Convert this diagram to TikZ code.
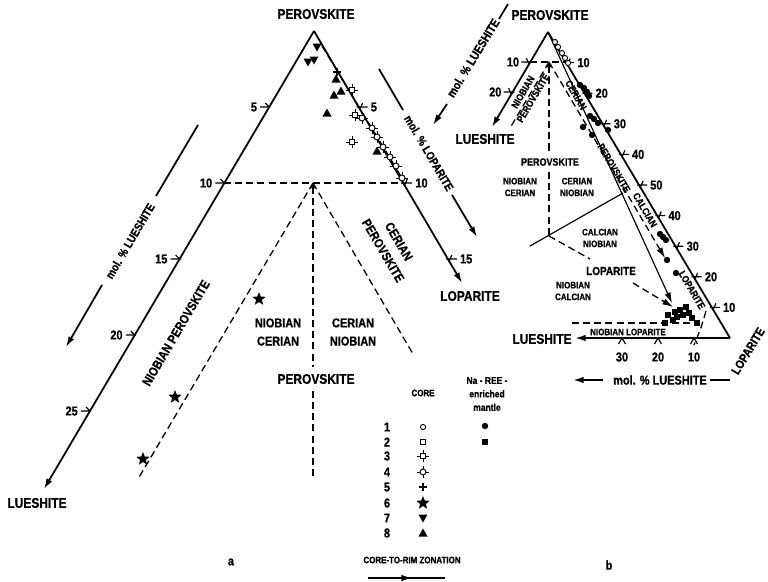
\documentclass[tikz,border=0pt]{standalone}
\usepackage{fontspec}
\setmainfont{Liberation Sans}[FakeStretch=0.85, BoldFeatures={FakeBold=0.8}]
\usetikzlibrary{arrows.meta,shapes.geometric}
\tikzset{
  >={Latex[length=9pt,width=5.5pt]},
  side/.style={line width=1.5pt},
  fine/.style={line width=1pt},
  guide/.style={line width=1.1pt, dash pattern=on 6pt off 3.5pt},
  bigtxt/.style={font=\bfseries\fontsize{12}{12}\selectfont, inner sep=0pt},
  midtxt/.style={font=\bfseries\fontsize{11}{15.5}\selectfont, inner sep=0pt, align=center},
  moltxt/.style={font=\bfseries\fontsize{10}{10}\selectfont, inner sep=0pt},
  numtxt/.style={font=\bfseries\fontsize{11}{11}\selectfont, inner sep=0pt},
  smalltxt/.style={font=\bfseries\fontsize{8}{10}\selectfont, inner sep=0pt, align=center},
  striptxt/.style={font=\bfseries\fontsize{8.5}{8.5}\selectfont, inner sep=0pt, align=center},
  opencirc/.pic={\draw[fill=white, line width=.8pt] (0,0) circle (2.6);},
  opensq/.pic={\draw[fill=white, line width=.8pt] (-2.6,-2.6) rectangle (2.6,2.6);},
  tsq/.pic={\draw[line width=.8pt] (-6,0) -- (6,0) (0,-6) -- (0,6);
    \draw[fill=white, line width=.8pt] (-2.8,-2.8) rectangle (2.8,2.8);},
  tcirc/.pic={\draw[line width=.8pt] (-6,0) -- (6,0) (0,-6) -- (0,6);
    \draw[fill=white, line width=.8pt] (0,0) circle (3);},
  plusmk/.pic={\draw[line width=1pt] (-4,0) -- (4,0) (0,-4) -- (0,4);},
  starmk/.pic={\node[star, star points=5, star point ratio=2.3, fill, inner sep=0pt, minimum size=0.42cm] {};},
  downtri/.pic={\fill (-4.5,-3.5) -- (4.5,-3.5) -- (0,4.5) -- cycle;},
  uptri/.pic={\fill (-4.5,3.5) -- (4.5,3.5) -- (0,-4.5) -- cycle;},
  dotmk/.pic={\fill (0,0) circle (3.2);},
  sqmk/.pic={\fill (-3.3,-3.3) rectangle (3.3,3.3);}
}
\begin{document}
\begin{tikzpicture}[x=0.03cm, y=-0.03cm]
  \useasboundingbox (0,0) rectangle (768,581);
  \begin{scope}
    \coordinate (Pa) at (314,31);
    \coordinate (La) at (44,489);
    \coordinate (Oa) at (462,283);
    \coordinate (Va) at (313,183);
    \draw[side, ->] (Pa) -- (La);
    \draw[side, ->] (Pa) -- (Oa);
    \node[bigtxt] (pera) at (316,14) {PEROVSKITE};
    \node[bigtxt] (luea) at (37,503) {LUESHITE};
    \node[bigtxt] (lopa) at (470,296) {LOPARITE};
    \foreach \v in {5,10,...,25} {
      \pgfmathsetmacro\ty{31 + 15.2*\v}
      \pgfmathsetmacro\tx{314 - 0.5895*(\ty - 31)}
      \draw[fine] (\tx-9,\ty) -- (\tx+1,\ty) (\tx-4,\ty-4) -- (\tx,\ty);
      \node[numtxt, anchor=east] (tla\v) at (\tx-12,\ty) {\v};
    }
    \foreach \v in {5,10,15} {
      \pgfmathsetmacro\ty{31 + 15.2*\v}
      \pgfmathsetmacro\tx{314 + 0.587*(\ty - 31)}
      \draw[fine] (\tx-2,\ty) -- (\tx+9,\ty) (\tx+4,\ty-4) -- (\tx+1,\ty+3);
      \node[numtxt, anchor=west] (tra\v) at (\tx+12,\ty) {\v};
    }
    \draw[guide] (224,183) -- (403,183);
    \draw[guide] (Va) -- (138,479);
    \draw[guide] (Va) -- (413,354);
    \draw[guide, {Stealth[length=5pt,width=4pt]}-] (Va) -- (313,367);
    \draw[guide] (313,391) -- (313,476);
    \node[midtxt] (nca) at (278,332) {NIOBIAN\\CERIAN};
    \node[midtxt] (cna) at (353,332) {CERIAN\\NIOBIAN};
    \node[bigtxt] (pva) at (316,379) {PEROVSKITE};
    \node[midtxt, rotate=-59.6] (cpa) at (391,246) {CERIAN\\PEROVSKITE};
    \node[midtxt, rotate=59.5] (npa) at (176,333) {NIOBIAN PEROVSKITE};
    \draw[side] (198,125) -- (156,196);
    \node[moltxt, rotate=59.5] (mla) at (130,241) {mol. \% LUESHITE};
    \draw[side, ->] (102,285) -- (66,347);
    \draw[side] (379,69) -- (403,110);
    \node[moltxt, rotate=-59.6] (moa) at (429,153) {mol. \% LOPARITE};
    \draw[side, ->] (452,195) -- (477,237);
    \draw[guide] (322,46) -- (402,178);
    \foreach \p in {(317,47),(308,62),(314,60)} \pic at \p {downtri};
    \foreach \p in {(336,79),(334,95),(341,91),(327,113),(377,151)} \pic at \p {uptri};
    \pic at (337,72) {plusmk};
    \foreach \p in {(352,90),(352,142),(355,115)} \pic at \p {tsq};
    \foreach \p in {(362,118),(372,128),(377,137),(383,147),(390,157),(396,166),(402,178)} \pic at \p {tcirc};
    \foreach \p in {(259,299),(175,397),(143,459)} \pic at \p {starmk};
    \node[numtxt] (lbla) at (231,562) {a};
  \end{scope}
  \begin{scope}
    \node[smalltxt] (core) at (423,393) {CORE};
    \foreach \n/\yy/\mk in {1/427/opencirc,2/442/opensq,3/456/tsq,4/472/tcirc,5/487/plusmk,6/503/starmk,7/518/downtri,8/533/uptri} {
      \node[numtxt] (num\n) at (387,\yy) {\n};
      \pic at (423,\yy) {\mk};
    }
    \node[smalltxt, font=\bfseries\fontsize{8.5}{11.5}\selectfont] (nree) at (487,394) {Na - REE -\\enriched\\mantle};
    \pic at (485,426) {dotmk};
    \pic at (485,442) {sqmk};
    \node[smalltxt] (zon) at (412,560) {CORE-TO-RIM ZONATION};
    \draw[fine, ->] (368,578) -- (412,578);
    \draw[fine] (405,578) -- (445,578);
  \end{scope}
  \begin{scope}
    \coordinate (Pb) at (548,32);
    \coordinate (Lb) at (492,127);
    \coordinate (Ob) at (730,338);
    \coordinate (Vb) at (549,62);
    \draw[side, ->] (Pb) -- (Lb);
    \draw[side] (Pb) -- (Ob);
    \draw[side, ->] (Ob) -- (575,338);
    \draw[fine, ->] (Pb) -- (672,303);
    \node[bigtxt] (perb) at (550,15) {PEROVSKITE};
    \node[bigtxt] (lueb) at (485,139) {LUESHITE};
    \node[bigtxt] (luec) at (542,339) {LUESHITE};
    \node[bigtxt, font=\bfseries\fontsize{10.5}{10.5}\selectfont, rotate=58.5] (lopb) at (748,351) {LOPARITE};
    \foreach \k in {1,...,9} {
      \pgfmathsetmacro\ty{338 - 30.6*\k}
      \pgfmathsetmacro\tx{548 + 0.595*(\ty - 32)}
      \pgfmathtruncatemacro\lbl{10*min(\k,10-\k)}
      \draw[fine] (\tx-2,\ty) -- (\tx+8,\ty) (\tx+4,\ty-4) -- (\tx+1,\ty+3);
      \node[numtxt, anchor=west] (trb\k) at (\tx+11,\ty) {\lbl};
    }
    \foreach \v in {10,20} {
      \pgfmathsetmacro\ty{32 + 3.0*\v}
      \pgfmathsetmacro\tx{548 - 0.59*(\ty - 32)}
      \draw[fine] (\tx-9,\ty) -- (\tx+2,\ty) (\tx-4,\ty-4) -- (\tx-1,\ty+3);
      \node[numtxt, anchor=east] (tlb\v) at (\tx-11,\ty) {\v};
    }
    \foreach \v in {10,20,30} {
      \pgfmathsetmacro\tx{730 - 3.6*\v}
      \draw[fine] (\tx-3.5,344) -- (\tx,338) -- (\tx+3.5,344);
      \node[numtxt] (tbb\v) at (\tx,357) {\v};
    }
    \draw[guide] (530,62) -- (566,62);
    \draw[guide] (Vb) -- (510,128);
    \draw[guide, ->] (Vb) -- (665,258);
    \draw[guide, {Stealth[length=5pt,width=4pt]}-] (Vb) -- (549,151);
    \draw[guide] (549,172) -- (549,236);
    \draw[fine] (530,246) -- (623,193);
    \draw[guide] (549,236) -- (590,259);
    \draw[guide, ->] (633,283) -- (673,307);
    \draw[guide] (572,323) -- (695,323);
    \draw[guide] (706,311) .. controls (701,328) .. (694,345);
    \node[font=\bfseries\fontsize{9}{9}\selectfont, inner sep=0pt] (pvb) at (550,162) {PEROVSKITE};
    \node[smalltxt] (ncb) at (520,187) {NIOBIAN\\CERIAN};
    \node[smalltxt] (cnb) at (577,187) {CERIAN\\NIOBIAN};
    \node[smalltxt] (canb) at (600,238) {CALCIAN\\NIOBIAN};
    \node[font=\bfseries\fontsize{10}{10}\selectfont, inner sep=0pt] (lob) at (611,271) {LOPARITE};
    \node[smalltxt] (nlcb) at (573,291) {NIOBIAN\\CALCIAN};
    \node[smalltxt] (nlb) at (628,332) {NIOBIAN LOPARITE};
    \node[striptxt, rotate=-59.5] (ceb) at (576,95) {CERIAN};
    \node[striptxt, rotate=-59.5] (psb) at (614,168) {PEROVSKITE};
    \node[striptxt, rotate=-59.5] (clb) at (645,210) {CALCIAN};
    \node[striptxt, rotate=-59.5] (lsb) at (692,290) {LOPARITE};
    \node[striptxt, rotate=59.5, font=\bfseries\fontsize{8.5}{10}\selectfont] (npb) at (528,95) {NIOBIAN\\PEROVSKITE};
    \draw[side] (508,4) -- (499,19);
    \node[moltxt, font=\bfseries\fontsize{10.5}{10.5}\selectfont, rotate=58.6] (mlb) at (473,58) {mol. \% LUESHITE};
    \draw[side, ->] (447,104) -- (433,125);
    \draw[side, ->] (603,380) -- (573,380);
    \node[font=\bfseries\fontsize{11}{11}\selectfont, inner sep=0pt] (mlc) at (660,380) {mol. \% LUESHITE};
    \draw[side] (710,380) -- (730,380);
    \foreach \p in {(555,42),(558,47),(562,53),(565,58),(568,63)} \pic at \p {opencirc};
    \foreach \p in {(580,85),(584,88),(587,92),(589,96),(590,116),(594,119),(598,123),(608,130),(583,127),(592,135),(660,234),(663,237),(666,240),(667,260),(676,273)} \pic at \p {dotmk};
    \foreach \p in {(668,315),(673,320),(665,323),(680,310),(686,307),(689,313),(692,318),(697,323),(677,317),(675,312),(683,315)} \pic at \p {sqmk};
    \node[numtxt] (lblb) at (609,565) {b};
  \end{scope}
\end{tikzpicture}
\end{document}
